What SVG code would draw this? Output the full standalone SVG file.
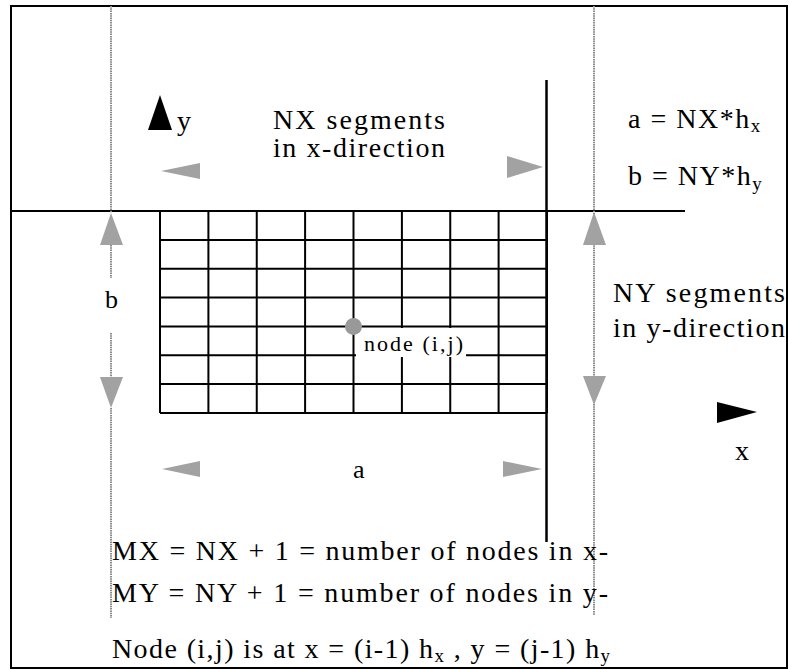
<svg xmlns="http://www.w3.org/2000/svg" width="789" height="670" viewBox="0 0 789 670">
<style>
text{font-family:"Liberation Serif","DejaVu Serif","Times New Roman",serif;fill:#000}
.t28{font-size:28px}
.t26{font-size:26px}
.t22{font-size:22px}
.sub{font-size:19px}
.grid line{stroke:#000;stroke-width:2}
.dot{stroke:#8a8a8a;stroke-width:2;stroke-dasharray:1.5 0.8}
.gt{fill:#a2a2a2}
.bt{fill:#000}
</style>
<rect x="0" y="0" width="789" height="670" fill="#fff"/>
<rect id="frame" x="11" y="6" width="776" height="662" fill="none" stroke="#000" stroke-width="2"/>

<g id="connectors">
  <line x1="11" y1="211" x2="685" y2="211" stroke="#000" stroke-width="2"/>
  <line x1="546.5" y1="80" x2="546.5" y2="542" stroke="#000" stroke-width="2.5"/>
  <line class="dot" x1="111" y1="6" x2="111" y2="213"/>
  <line class="dot" x1="111" y1="245" x2="111" y2="278"/>
  <line class="dot" x1="111" y1="333" x2="111" y2="377"/>
  <line class="dot" x1="111" y1="408" x2="111" y2="618"/>
  <line class="dot" x1="594" y1="6" x2="594" y2="615"/>
  <polygon class="gt" points="111,213 123,245 100,245"/>
  <polygon class="gt" points="100,377 123,377 111,408"/>
  <polygon class="gt" points="594,212 606,245 583,245"/>
  <polygon class="gt" points="583,376 606,376 594,405"/>
  <polygon class="gt" points="161,171 200,163 200,179"/>
  <polygon class="gt" points="507,156 543,167 507,178"/>
  <polygon class="gt" points="162,469 200,461 200,477"/>
  <polygon class="gt" points="503,461 542,469 503,477"/>
</g>

<g id="axis-y">
  <polygon class="bt" points="160,95 172,130 148,130"/>
  <text class="t28" x="177" y="130">y</text>
</g>
<g id="axis-x">
  <polygon class="bt" points="717,402 757,412 717,423"/>
  <text class="t28" x="735" y="460">x</text>
</g>

<g id="grid" class="grid">
  <line x1="160" y1="211" x2="160" y2="413"/>
  <line x1="208.4" y1="211" x2="208.4" y2="413"/>
  <line x1="256.75" y1="211" x2="256.75" y2="413"/>
  <line x1="305.1" y1="211" x2="305.1" y2="413"/>
  <line x1="353.5" y1="211" x2="353.5" y2="413"/>
  <line x1="401.9" y1="211" x2="401.9" y2="413"/>
  <line x1="450.25" y1="211" x2="450.25" y2="413"/>
  <line x1="498.6" y1="211" x2="498.6" y2="413"/>
  <line x1="547" y1="211" x2="547" y2="413"/>
  <line x1="160" y1="211" x2="547" y2="211"/>
  <line x1="160" y1="239.9" x2="547" y2="239.9"/>
  <line x1="160" y1="268.7" x2="547" y2="268.7"/>
  <line x1="160" y1="297.6" x2="547" y2="297.6"/>
  <line x1="160" y1="326.4" x2="547" y2="326.4"/>
  <line x1="160" y1="355.3" x2="547" y2="355.3"/>
  <line x1="160" y1="384.1" x2="547" y2="384.1"/>
  <line x1="160" y1="413" x2="547" y2="413"/>
</g>

<g id="node-ij">
  <rect x="356" y="328" width="110" height="29" fill="#fff"/>
  <circle cx="353.5" cy="326.4" r="8.5" fill="#999"/>
  <text class="t22" x="364" y="351" textLength="99" lengthAdjust="spacing">node (i,j)</text>
</g>

<g id="label-nx">
  <text class="t28" x="273" y="129" textLength="172" lengthAdjust="spacing">NX segments</text>
  <text class="t28" x="273" y="157" textLength="172" lengthAdjust="spacing">in x-direction</text>
</g>
<g id="label-ny">
  <text class="t28" x="613" y="302" textLength="172" lengthAdjust="spacing">NY segments</text>
  <text class="t28" x="613" y="337" textLength="172" lengthAdjust="spacing">in y-direction</text>
</g>
<g id="label-formulas">
  <text class="t28" x="628" y="128" letter-spacing="1.5">a = NX*h<tspan class="sub" dy="4">x</tspan></text>
  <text class="t28" x="628" y="185" letter-spacing="1.5">b = NY*h<tspan class="sub" dy="5">y</tspan></text>
</g>
<g id="label-b"><text class="t26" x="105" y="308">b</text></g>
<g id="label-a"><text class="t26" x="353" y="478">a</text></g>

<g id="notes">
  <text class="t28" x="112" y="560" textLength="496" lengthAdjust="spacing">MX = NX + 1 = number of nodes in x-</text>
  <text class="t28" x="112" y="602" textLength="496" lengthAdjust="spacing">MY = NY + 1 = number of nodes in y-</text>
  <text class="t28" x="112" y="658" letter-spacing="1.4">Node (i,j) is at x = (i-1) h<tspan class="sub" dy="4">x</tspan><tspan dy="-4"> , y = (j-1) h</tspan><tspan class="sub" dy="4">y</tspan></text>
</g>
</svg>
